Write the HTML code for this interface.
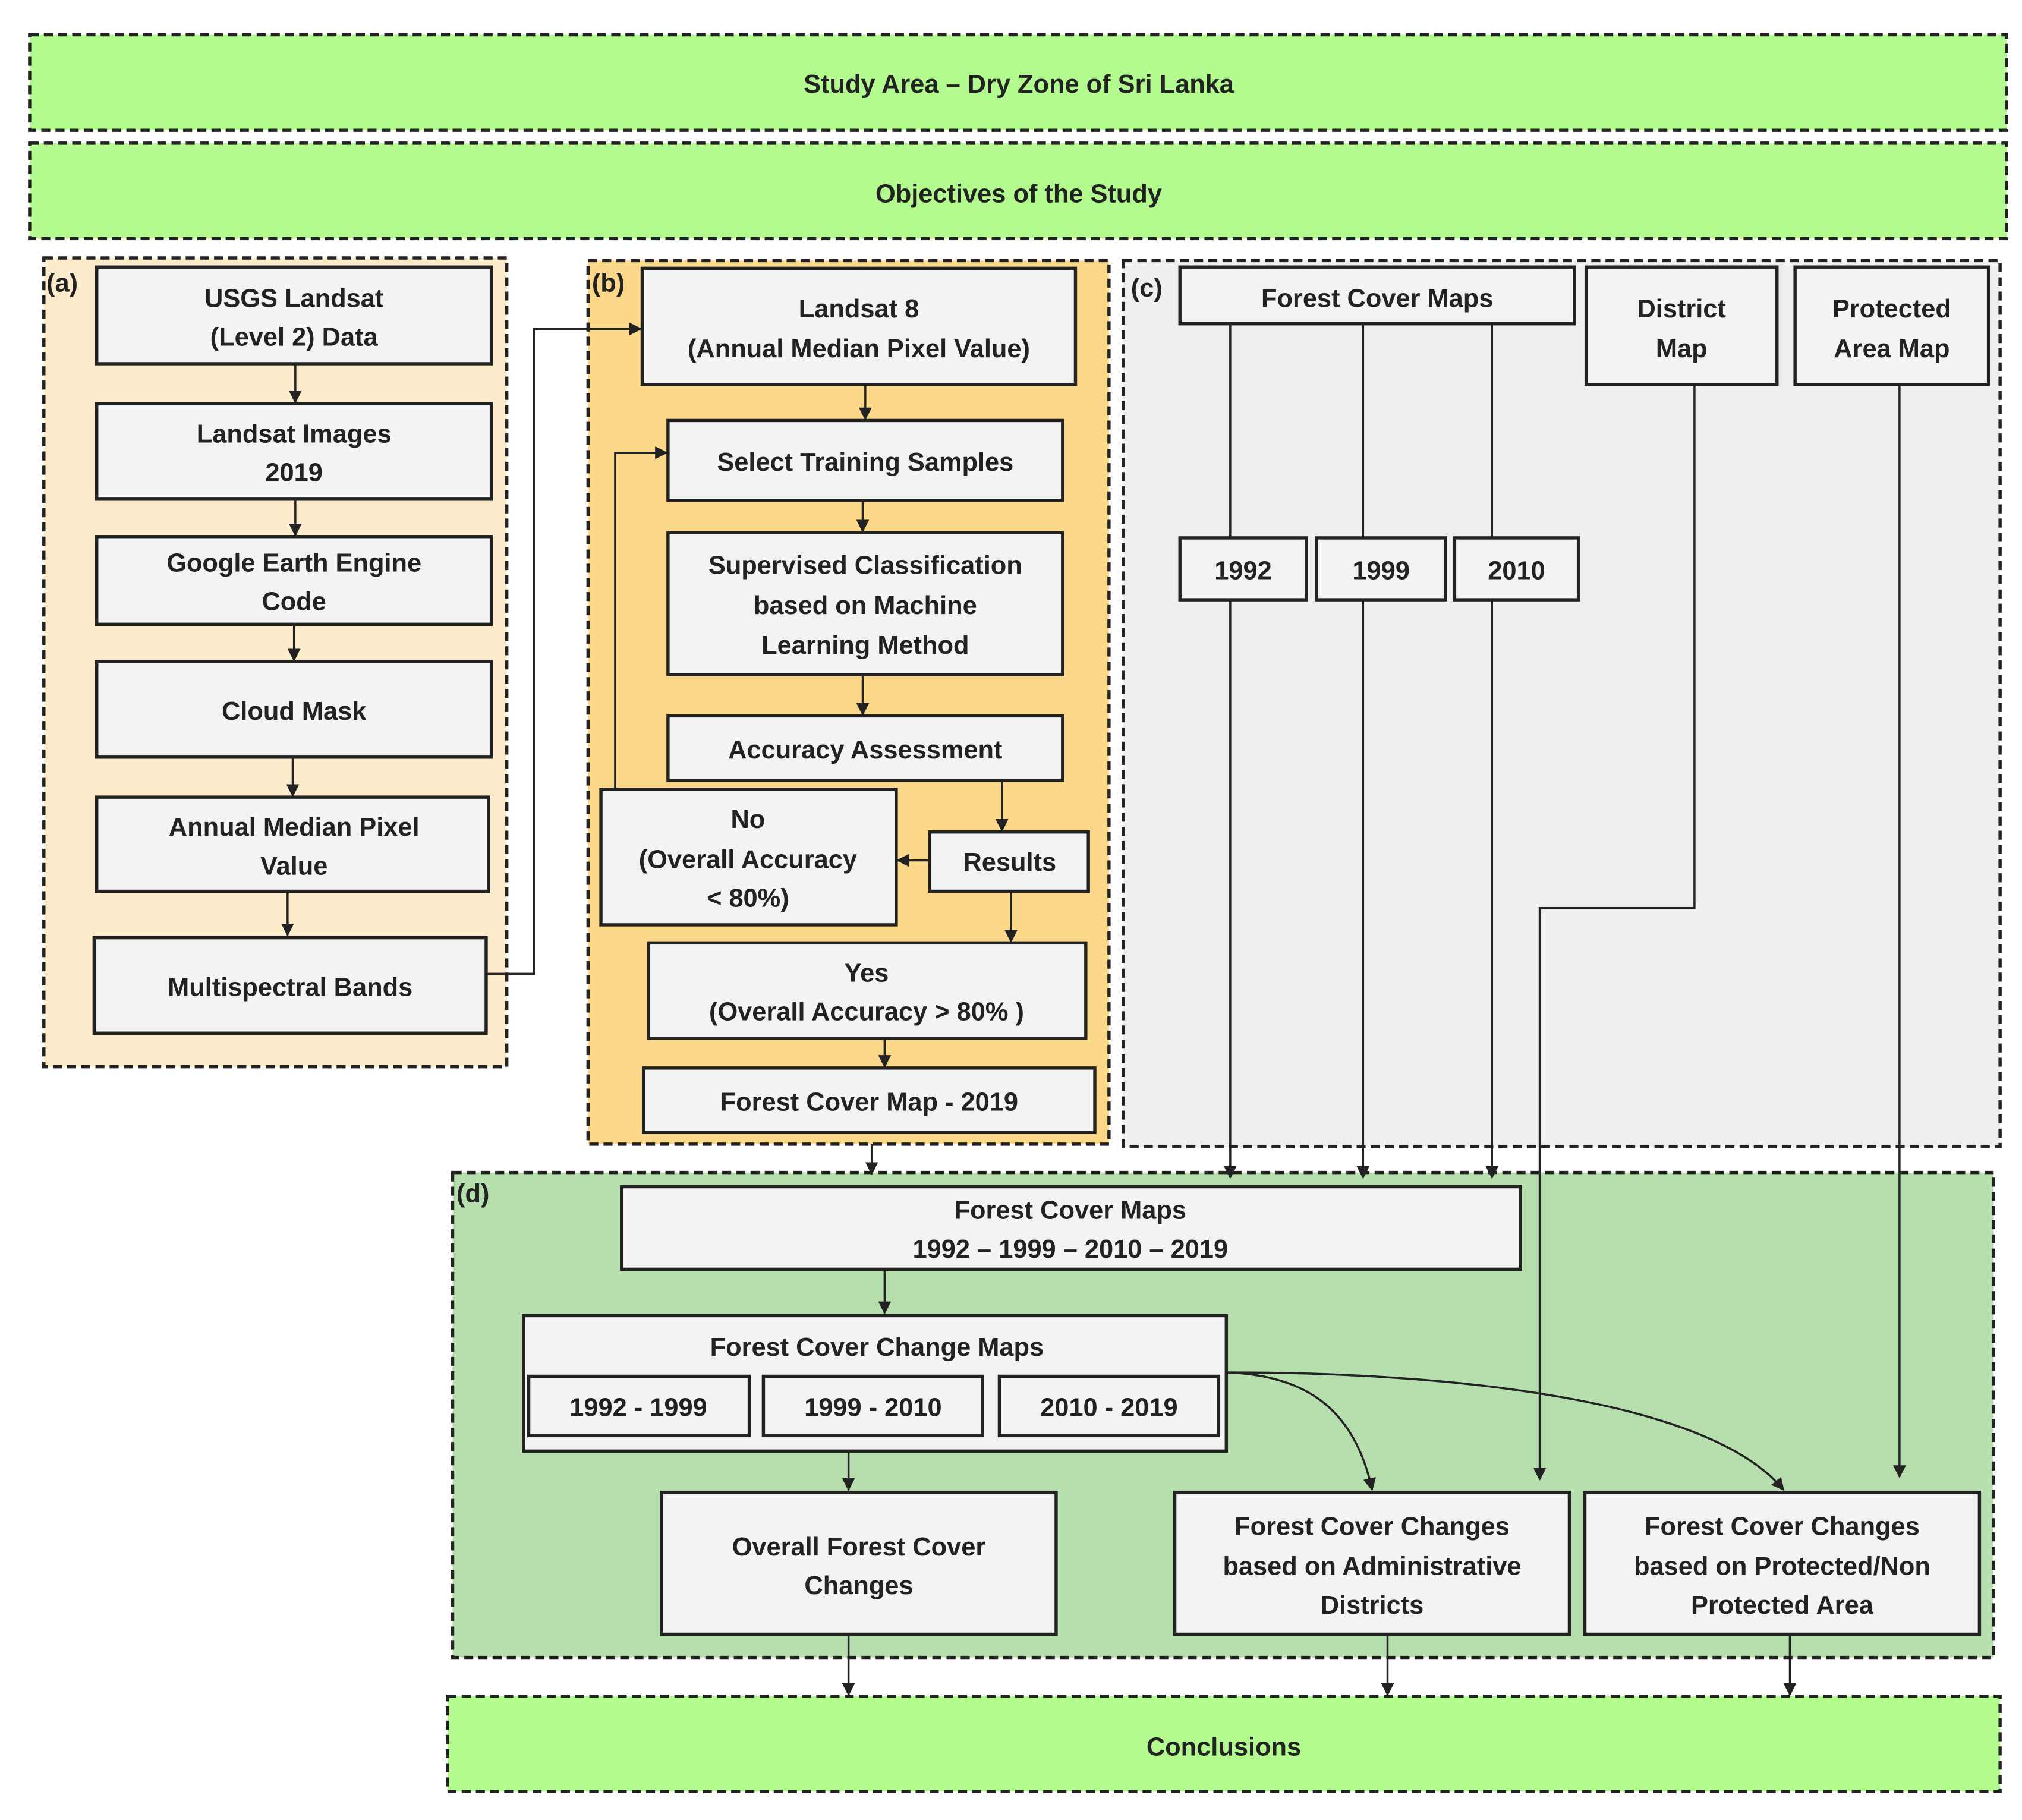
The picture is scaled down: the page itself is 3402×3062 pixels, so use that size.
<!DOCTYPE html>
<html><head><meta charset="utf-8"><style>
html,body{margin:0;padding:0;background:#fff}
svg{display:block}
text{font-family:"Liberation Sans",sans-serif;font-weight:bold;font-size:20px;fill:#222;text-anchor:middle}
.n{fill:#f3f3f3;stroke:#222;stroke-width:2.5}
.c{stroke:#222;stroke-width:2.5;stroke-dasharray:7 4}
.l{fill:none;stroke:#222;stroke-width:1.6}
.lbl{text-anchor:start}
</style></head><body>
<svg width="3402" height="3062" viewBox="0 0 1568 1411" preserveAspectRatio="none" xmlns="http://www.w3.org/2000/svg">
<defs><marker id="a" markerWidth="10" markerHeight="10" refX="9" refY="5" orient="auto" markerUnits="userSpaceOnUse"><path d="M0,0 L10,5 L0,10 z" fill="#222"/></marker></defs>
<rect width="1568" height="1411" fill="#fff"/>
<rect x="23" y="27" width="1533" height="74" style="fill:#b3fa8f" class="c"/>
<text x="790" y="72" font-size="24">Study Area – Dry Zone of Sri Lanka</text>
<rect x="23" y="111" width="1533" height="74" style="fill:#b3fa8f" class="c"/>
<text x="790" y="157" font-size="24">Objectives of the Study</text>
<rect x="34" y="200" width="359" height="627" style="fill:#fdeccb" class="c"/>
<rect x="456" y="202" width="404" height="685" style="fill:#fcd98a" class="c"/>
<rect x="871" y="202" width="680" height="687" style="fill:#efefef" class="c"/>
<rect x="351" y="909" width="1195" height="376" style="fill:#b7dfae" class="c"/>
<rect x="347" y="1315" width="1204" height="74" style="fill:#b3fa8f" class="c"/>
<text x="949" y="1361" font-size="24">Conclusions</text>
<text x="36" y="226" class="lbl">(a)</text>
<text x="459" y="226" class="lbl">(b)</text>
<text x="877" y="230" class="lbl">(c)</text>
<text x="354" y="932" class="lbl">(d)</text>
<rect x="75" y="207" width="306" height="75" class="n"/><text x="228" y="238">USGS Landsat</text><text x="228" y="268">(Level 2) Data</text>
<rect x="75" y="313" width="306" height="74" class="n"/><text x="228" y="343">Landsat Images</text><text x="228" y="373">2019</text>
<rect x="75" y="416" width="306" height="68" class="n"/><text x="228" y="443">Google Earth Engine</text><text x="228" y="473">Code</text>
<rect x="75" y="513" width="306" height="74" class="n"/><text x="228" y="558">Cloud Mask</text>
<rect x="75" y="618" width="304" height="73" class="n"/><text x="228" y="648">Annual Median Pixel</text><text x="228" y="678">Value</text>
<rect x="73" y="727" width="304" height="74" class="n"/><text x="225" y="772">Multispectral Bands</text>
<line x1="229" y1="282" x2="229" y2="312" class="l" marker-end="url(#a)"/>
<line x1="229" y1="387" x2="229" y2="415" class="l" marker-end="url(#a)"/>
<line x1="228" y1="484" x2="228" y2="512" class="l" marker-end="url(#a)"/>
<line x1="227" y1="587" x2="227" y2="617" class="l" marker-end="url(#a)"/>
<line x1="223" y1="691" x2="223" y2="725" class="l" marker-end="url(#a)"/>
<polyline points="377,755 414,755 414,255 497,255" class="l" marker-end="url(#a)"/>
<rect x="498" y="208" width="336" height="90" class="n"/><text x="666" y="246">Landsat 8</text><text x="666" y="277">(Annual Median Pixel Value)</text>
<rect x="518" y="326" width="306" height="62" class="n"/><text x="671" y="365">Select Training Samples</text>
<rect x="518" y="413" width="306" height="110" class="n"/><text x="671" y="445">Supervised Classification</text><text x="671" y="476">based on Machine</text><text x="671" y="507">Learning Method</text>
<rect x="518" y="555" width="306" height="50" class="n"/><text x="671" y="588">Accuracy Assessment</text>
<rect x="466" y="612" width="229" height="105" class="n"/><text x="580" y="642">No</text><text x="580" y="673">(Overall Accuracy</text><text x="580" y="703">&lt; 80%)</text>
<rect x="721" y="645" width="123" height="46" class="n"/><text x="783" y="675">Results</text>
<rect x="503" y="731" width="339" height="74" class="n"/><text x="672" y="761">Yes</text><text x="672" y="791">(Overall Accuracy &gt; 80% )</text>
<rect x="499" y="828" width="350" height="50" class="n"/><text x="674" y="861">Forest Cover Map - 2019</text>
<line x1="671" y1="298" x2="671" y2="325" class="l" marker-end="url(#a)"/>
<line x1="669" y1="388" x2="669" y2="412" class="l" marker-end="url(#a)"/>
<line x1="669" y1="523" x2="669" y2="554" class="l" marker-end="url(#a)"/>
<line x1="777" y1="605" x2="777" y2="644" class="l" marker-end="url(#a)"/>
<line x1="721" y1="667" x2="696" y2="667" class="l" marker-end="url(#a)"/>
<line x1="784" y1="691" x2="784" y2="730" class="l" marker-end="url(#a)"/>
<line x1="686" y1="805" x2="686" y2="827" class="l" marker-end="url(#a)"/>
<polyline points="477,612 477,351 517,351" class="l" marker-end="url(#a)"/>
<line x1="676" y1="887" x2="676" y2="910" class="l" marker-end="url(#a)"/>
<rect x="915" y="207" width="306" height="44" class="n"/><text x="1068" y="238">Forest Cover Maps</text>
<rect x="1230" y="207" width="148" height="91" class="n"/><text x="1304" y="246">District</text><text x="1304" y="277">Map</text>
<rect x="1392" y="207" width="150" height="91" class="n"/><text x="1467" y="246">Protected</text><text x="1467" y="277">Area Map</text>
<rect x="915" y="417" width="98" height="48" class="n"/><text x="964" y="449">1992</text>
<rect x="1021" y="417" width="100" height="48" class="n"/><text x="1071" y="449">1999</text>
<rect x="1128" y="417" width="96" height="48" class="n"/><text x="1176" y="449">2010</text>
<line x1="954" y1="251" x2="954" y2="417" class="l"/>
<line x1="1057" y1="251" x2="1057" y2="417" class="l"/>
<line x1="1157" y1="251" x2="1157" y2="417" class="l"/>
<line x1="954" y1="465" x2="954" y2="913" class="l" marker-end="url(#a)"/>
<line x1="1057" y1="465" x2="1057" y2="913" class="l" marker-end="url(#a)"/>
<line x1="1157" y1="465" x2="1157" y2="913" class="l" marker-end="url(#a)"/>
<polyline points="1314,298 1314,704 1194,704 1194,1147" class="l" marker-end="url(#a)"/>
<line x1="1473" y1="298" x2="1473" y2="1145" class="l" marker-end="url(#a)"/>
<rect x="482" y="920" width="697" height="64" class="n"/><text x="830" y="945">Forest Cover Maps</text><text x="830" y="975">1992 – 1999 – 2010 – 2019</text>
<rect x="406" y="1020" width="545" height="105" class="n"/><text x="680" y="1051">Forest Cover Change Maps</text>
<rect x="410" y="1067" width="171" height="46" class="n"/><text x="495" y="1098">1992 - 1999</text>
<rect x="592" y="1067" width="170" height="46" class="n"/><text x="677" y="1098">1999 - 2010</text>
<rect x="775" y="1067" width="170" height="46" class="n"/><text x="860" y="1098">2010 - 2019</text>
<line x1="686" y1="984" x2="686" y2="1018" class="l" marker-end="url(#a)"/>
<line x1="658" y1="1125" x2="658" y2="1155" class="l" marker-end="url(#a)"/>
<path d="M951,1064 C1010,1066 1050,1090 1064,1155" class="l" marker-end="url(#a)"/>
<path d="M951,1064 C1150,1064 1330,1090 1383,1155" class="l" marker-end="url(#a)"/>
<rect x="513" y="1157" width="306" height="110" class="n"/><text x="666" y="1206">Overall Forest Cover</text><text x="666" y="1236">Changes</text>
<rect x="911" y="1157" width="306" height="110" class="n"/><text x="1064" y="1190">Forest Cover Changes</text><text x="1064" y="1221">based on Administrative</text><text x="1064" y="1251">Districts</text>
<rect x="1229" y="1157" width="306" height="110" class="n"/><text x="1382" y="1190">Forest Cover Changes</text><text x="1382" y="1221">based on Protected/Non</text><text x="1382" y="1251">Protected Area</text>
<line x1="658" y1="1267" x2="658" y2="1314" class="l" marker-end="url(#a)"/>
<line x1="1076" y1="1267" x2="1076" y2="1314" class="l" marker-end="url(#a)"/>
<line x1="1388" y1="1267" x2="1388" y2="1314" class="l" marker-end="url(#a)"/>
</svg>
</body></html>
